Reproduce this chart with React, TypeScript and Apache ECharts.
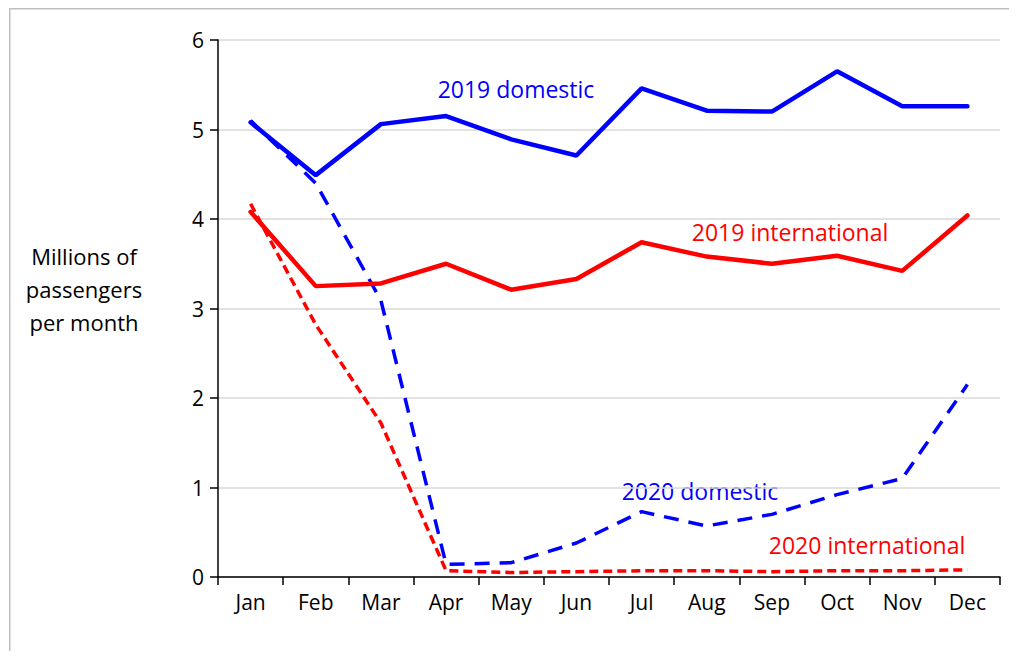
import React, { useEffect, useRef } from "react";
import * as echarts from "echarts";

const months = ["Jan", "Feb", "Mar", "Apr", "May", "Jun", "Jul", "Aug", "Sep", "Oct", "Nov", "Dec"];
const yTicks = [0, 1, 2, 3, 4, 5, 6];
const domestic2019 = [5.08, 4.49, 5.06, 5.15, 4.89, 4.71, 5.46, 5.21, 5.2, 5.65, 5.26, 5.26];
const international2019 = [4.08, 3.25, 3.28, 3.5, 3.21, 3.33, 3.74, 3.58, 3.5, 3.59, 3.42, 4.04];
const domestic2020 = [5.1, 4.4, 3.09, 0.14, 0.16, 0.38, 0.73, 0.57, 0.7, 0.92, 1.1, 2.15];
const international2020 = [4.17, 2.82, 1.72, 0.07, 0.05, 0.06, 0.07, 0.07, 0.06, 0.07, 0.07, 0.08];

const FONT = "'Open Sans', sans-serif";
const FS = 21;
const FA = 23;

export default function App() {
  const ref = useRef<HTMLDivElement>(null);
  useEffect(() => {
    if (!ref.current) return;
    document.documentElement.style.overflow = "hidden";
    document.body.style.overflow = "hidden";
    const chart = echarts.init(ref.current, undefined, { renderer: "svg" });
    chart.setOption({
      animation: false,
      grid: { left: 210, top: 32, right: 17, bottom: 74, containLabel: false },
      xAxis: {
        type: "category",
        data: months,
        boundaryGap: true,
        axisLine: { lineStyle: { color: "#000", width: 1.5 } },
        axisTick: { show: true, length: 8, interval: 0, lineStyle: { color: "#000", width: 1.5 } },
        axisLabel: { color: "#000", fontSize: FS, fontFamily: FONT, margin: 14 },
        splitLine: { show: false },
      },
      yAxis: {
        type: "value",
        min: yTicks[0],
        max: yTicks[yTicks.length - 1],
        interval: 1,
        axisLine: { show: true, lineStyle: { color: "#000", width: 1.5 } },
        axisTick: { show: true, length: 8, lineStyle: { color: "#000", width: 1.5 } },
        axisLabel: { color: "#000", fontSize: FS, fontFamily: FONT, margin: 14 },
        splitLine: { show: true, lineStyle: { color: "#d9d9d9", width: 1.5 } },
      },
      series: [
        {
          name: "2020 international",
          type: "line",
          data: international2020,
          symbol: "none",
          lineStyle: { color: "#ff0000", width: 3.5, type: [9, 5] },
        },
        {
          name: "2020 domestic",
          type: "line",
          data: domestic2020,
          symbol: "none",
          lineStyle: { color: "#0000ff", width: 3.5, type: [15, 10] },
        },
        {
          name: "2019 international",
          type: "line",
          data: international2019,
          symbol: "none",
          lineStyle: { color: "#ff0000", width: 4.5, cap: "round" },
        },
        {
          name: "2019 domestic",
          type: "line",
          data: domestic2019,
          symbol: "none",
          lineStyle: { color: "#0000ff", width: 4.5, cap: "round" },
        },
      ],
      graphic: [
        {
          type: "line",
          shape: { x1: 1, y1: 0.75, x2: 1009, y2: 0.75 },
          style: { stroke: "#bfbfbf", lineWidth: 1.5 },
          silent: true,
        },
        {
          type: "line",
          shape: { x1: 1.75, y1: 0, x2: 1.75, y2: 643 },
          style: { stroke: "#bfbfbf", lineWidth: 1.5 },
          silent: true,
        },
        {
          type: "text",
          x: 76,
          y: 281,
          style: {
            text: "Millions of\npassengers\nper month",
            fill: "#000",
            font: `22px ${FONT}`,
            align: "center",
            verticalAlign: "middle",
            lineHeight: 33,
          },
        },
        { type: "text", x: 508, y: 81, style: { text: "2019 domestic", fill: "#0000ff", font: `${FA}px ${FONT}`, align: "center", verticalAlign: "middle" } },
        { type: "text", x: 782, y: 224, style: { text: "2019 international", fill: "#ff0000", font: `${FA}px ${FONT}`, align: "center", verticalAlign: "middle" } },
        { type: "text", x: 692, y: 483, style: { text: "2020 domestic", fill: "#0000ff", font: `${FA}px ${FONT}`, align: "center", verticalAlign: "middle" } },
        { type: "text", x: 859, y: 537, style: { text: "2020 international", fill: "#ff0000", font: `${FA}px ${FONT}`, align: "center", verticalAlign: "middle" } },
      ],
    });
    return () => chart.dispose();
  }, []);
  return <div ref={ref} style={{ width: 1009, height: 643 }} />;
}
